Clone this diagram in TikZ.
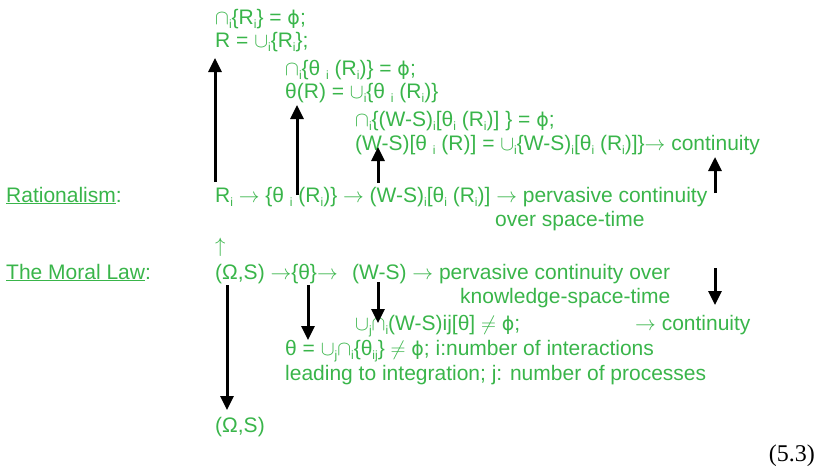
\documentclass[tikz,border=0pt]{standalone}
\usepackage{fontspec}
\setmainfont{Liberation Sans}
\newfontfamily\symfam{DejaVu Sans}
\newfontfamily\numfam{Liberation Serif}
\usepackage{xcolor}
\usetikzlibrary{arrows.meta}
\definecolor{lawgreen}{RGB}{57,181,74}
\newcommand{\sbs}[1]{\raisebox{-0.22em}{\fontsize{12}{12}\selectfont #1}}
\newcommand{\capx}{$\cap$}
\newcommand{\cupx}{$\cup$}
\newcommand{\tox}{$\rightarrow$}
\newcommand{\emp}{{\symfam\fontsize{19}{19}\selectfont ϕ}}
\tikzset{
  txt/.style={anchor=base west, inner sep=0pt, text=lawgreen, font=\fontsize{21}{24}\selectfont},
  arr/.style={-{Triangle[width=13pt,length=14pt]}, line width=3pt, black},
}

\begin{document}
\begin{tikzpicture}[x=1pt,y=-1pt]
\useasboundingbox (0,0) rectangle (818,475);
% rationalism chain
\node[txt] (capR) at (215,24) {\capx\sbs{i}\{R\sbs{i}\} = \emp;};
\node[txt] (unR) at (215,47) {R = \cupx\sbs{i}\{R\sbs{i}\};};
\node[txt] (capT) at (285,75) {\capx\sbs{i}\{θ \sbs{i} (R\sbs{i})\} = \emp;};
\node[txt] (unT) at (285,98) {θ(R) = \cupx\sbs{i}\{θ \sbs{i} (R\sbs{i})\}};
\node[txt] (capW) at (355,126) {\capx\sbs{i}\{(W-S)\sbs{i}[θ\sbs{i} (R\sbs{i})] \} = \emp;};
\node[txt] (unW) at (355,150) {(W-S)[θ \sbs{i} (R)] = \cupx\sbs{i}\{W-S)\sbs{i}[θ\sbs{i} (R\sbs{i})]\}\tox{} continuity};
\node[txt] (ratl) at (6,202) {\underline{Rationalism}:};
\node[txt] (ratc) at (215,202) {R\sbs{i} \tox{} \{θ \sbs{i} (R\sbs{i})\} \tox{} (W-S)\sbs{i}[θ\sbs{i} (R\sbs{i})] \tox{} pervasive continuity};
\node[txt] (ratd) at (495,226) {over space-time};
\node[txt] (lift) at (215,252) {$\uparrow$};
% moral law chain
\node[txt] (morl) at (6,279) {\underline{The Moral Law}:};
\node[txt] (morc) at (215,279) {(Ω,S) \tox\{θ\}\tox};
\node[txt] (morw) at (352,279) {(W-S) \tox{} pervasive continuity over};
\node[txt] (mord) at (460,303) {knowledge-space-time};
\node[txt] (intW) at (355,330) {\cupx\sbs{j}\capx\sbs{i}(W-S)ij[θ] $\neq$ \emp;};
\node[txt] (intC) at (635,330) {\tox{} continuity};
\node[txt] (intT) at (285,355) {θ = \cupx\sbs{j}\capx\sbs{i}\{θ\sbs{ij}\} $\neq$ \emp; i:number of interactions};
\node[txt] (intL) at (285,380) {leading to integration; j: number of processes};
\node[txt] (omS) at (215,432) {(Ω,S)};
\node[anchor=base east, inner sep=0pt, font=\numfam\fontsize{24}{24}\selectfont] (eqno) at (815,461) {(5.3)};
% arrows
\foreach \nm/\x/\ya/\yb in {uA/215/182/58, uB/297/195/105, uC/378/183/147, uD/715/193/157,
    dA/227/285/410, dB/308/285/340, dC/378/282/323, dD/715/268/305} {
  \coordinate (\nm s) at (\x,\ya);
  \coordinate (\nm e) at (\x,\yb);
  \draw[arr] (\nm s) -- (\nm e);
}
\end{tikzpicture}
\end{document}
